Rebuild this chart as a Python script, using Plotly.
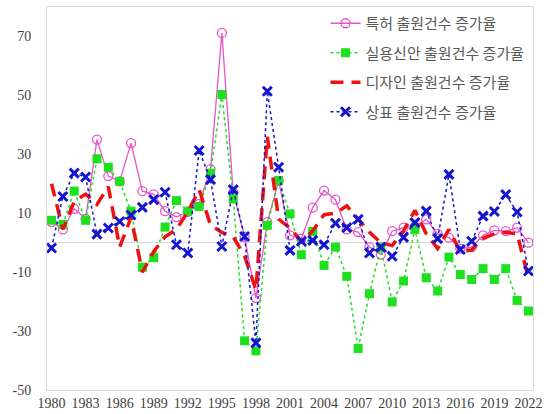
import plotly.graph_objects as go

years = list(range(1980, 2023))

patent = [7, 4.5, 11.5, 8.1, 35, 22.6, 20.8, 33.8, 17.5, 16.4, 10.7, 8.7, 10.5, 13.2, 25,
          71.2, 17, 2, -18.8, 7, 21, 2.5, 1.4, 11.9, 17.7, 14.6, 4.5, 3.6, -1.5, -4,
          3.9, 5.1, 5.5, 7.9, 3, 1.7, -2, -1.5, 2.5, 4.2, 3.9, 5.1, 0]

utility = [7.6, 6.2, 17.5, 7.6, 28.5, 25.6, 20.8, 10.7, -8.3, -5.1, 5.3, 14.3, 10.7, 12.3, 23.6,
           50.3, 14.9, -33.3, -36.7, 5.9, 21.1, 9.8, -4.1, 3.8, -7.7, -1.5, -11.4, -35.9, -17.3, -1.5,
           -20.1, -13, 4.5, -11.9, -16.4, -4.9, -10.8, -12.5, -8.8, -12.5, -8.8, -19.6, -23.2]

design = [20, 4.5, 14, 16.5, 13, 19, -1.5, 8.5, -10, -3, 2, 4.5, 10.5, 18, 6,
          3.5, 2, -4.5, -16, 36, 8, 5, 0.5, 4, 9.5, 10, 12.5, 8, 3.5, 0,
          -1, 4, 11, 3, -2, 4.5, -3, -2.5, 1.5, 3, 3.5, 3, -12]

trademark = [-1.8, 15.7, 23.6, 22.3, 2.9, 5, 7.2, 9.4, 12, 14.6, 17.1, -0.7, -3.5, 31.3, 21.4,
             -1.3, 18, 2.1, -34, 51.4, 25.6, -2.6, 0.5, 0.8, -0.7, 6.6, 5.1, 7.9, -3.5, -1.5,
             -4.6, 1.8, 6.8, 10.7, 1.4, 23.2, -2.3, 0.5, 9, 10.6, 16.3, 10.4, -9.6]

names = ["특허 출원건수 증가율", "실용신안 출원건수 증가율", "디자인 출원건수 증가율", "상표 출원건수 증가율"]
x_ticks = list(range(1980, 2023, 3))
y_ticks = [70, 50, 30, 10, -10, -30, -50]

fig = go.Figure()
fig.add_trace(go.Scatter(
    x=years, y=patent, name=names[0], mode="lines+markers", legendgroup="a",
    line=dict(color="#e654c8", width=1.3),
    marker=dict(symbol="circle-open", size=9, color="#e654c8", line=dict(width=1.3)),
))
fig.add_trace(go.Scatter(
    x=years, y=utility, name=names[1], mode="lines+markers", legendgroup="b",
    line=dict(color="#22dd22", width=1.5, dash="dot"),
    marker=dict(symbol="square", size=9, color="#1ee01e"),
))
fig.add_trace(go.Scatter(
    x=years, y=design, name=names[2], mode="lines", legendgroup="c",
    line=dict(color="#ee1111", width=3.5, dash="13px,8px"),
))
fig.add_trace(go.Scatter(
    x=years, y=trademark, name=names[3], mode="lines+markers", legendgroup="d",
    line=dict(color="#1515d0", width=1.5, dash="dot"),
    marker=dict(symbol="x-thin", size=9, color="#1515d0", line=dict(width=3, color="#1515d0")),
))

fig.update_layout(
    width=547, height=414,
    margin=dict(l=47, r=14, t=7, b=24, autoexpand=False),
    paper_bgcolor="white", plot_bgcolor="white",
    showlegend=True,
    legend=dict(
        x=0.573, y=1.0, xanchor="left", yanchor="top",
        font=dict(family="Noto Sans CJK KR", size=15, color="#595959"),
        bgcolor="rgba(255,255,255,0)", itemwidth=30, tracegroupgap=7,
    ),
    xaxis=dict(
        range=[1979.6, 2022.4], tickmode="array", tickvals=x_ticks,
        ticktext=[str(v) for v in x_ticks],
        showgrid=False, zeroline=False, showline=True, mirror=True,
        linecolor="#d9d9d9", linewidth=1, ticks="",
        tickfont=dict(family="Liberation Serif", size=14, color="#404040"),
    ),
    yaxis=dict(
        range=[-50, 80], tickmode="array", tickvals=y_ticks,
        ticktext=[str(v) for v in y_ticks],
        showgrid=False, zeroline=True, zerolinecolor="#d9d9d9", zerolinewidth=1,
        showline=True, mirror=True, linecolor="#d9d9d9", linewidth=1, ticks="",
        tickfont=dict(family="Liberation Serif", size=14, color="#404040"),
        ticklabelstandoff=12,
    ),
)

fig.write_html("out.html", config={"displayModeBar": False},
               post_script="document.body.style.margin='0';")
